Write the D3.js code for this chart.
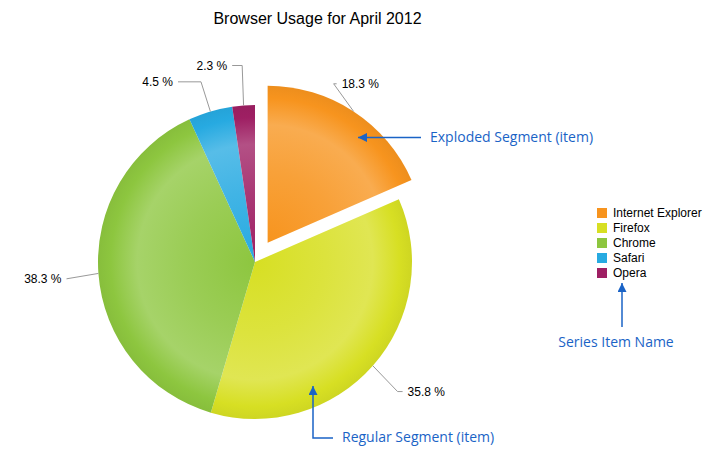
<!DOCTYPE html>
<html><head><meta charset="utf-8">
<script src="https://cdn.jsdelivr.net/npm/d3@7"></script>
<style>body{margin:0;background:#fff}svg{display:block}</style>
</head><body>
<svg id="c" width="717" height="460"></svg>
<script>
// ---- data ----
const browsers = ["Internet Explorer", "Firefox", "Chrome", "Safari", "Opera"];
const usage = [18.3, 35.8, 38.3, 4.5, 2.3];
const explodedFlags = [true, false, false, false, false];
const colors = ["#f7941e", "#d7df23", "#8dc63f", "#27aae1", "#9e1f63"];
const titleText = "Browser Usage for April 2012";
const annotations = ["Exploded Segment (item)", "Regular Segment (item)", "Series Item Name"];

// ---- layout (not data) ----
const W = 717, H = 460, cx = 255, cy = 262, R = 157, explode = 23;
const labelR = 190;
const labelTweak = [[-38, 0], [0, 4], [1, 3], [0, 2], [1, -7]];
const labelLeg = [3, 5, 0, -23, -10];

const svg = d3.select("#c");
const defs = svg.append("defs");

svg.append("text").attr("x", 317.5).attr("y", 24).attr("text-anchor", "middle")
  .attr("font-family", "Liberation Sans, Arial, sans-serif").attr("font-size", 16)
  .attr("fill", "#000").text(titleText);

const table = browsers.map((b, i) => ({name: b, value: usage[i], exploded: explodedFlags[i], color: colors[i], i}));
const pie = d3.pie().value(d => d.value).sort(null);
const arcs = pie(table);
const arc = d3.arc().innerRadius(0).outerRadius(R);

arcs.forEach((a, i) => {
  const c = d3.color(a.data.color);
  const light = d3.interpolateRgb(a.data.color, "#ffffff");
  const dark = d3.interpolateRgb(a.data.color, "#000000");
  const g = defs.append("radialGradient").attr("id", "g" + i)
    .attr("gradientUnits", "userSpaceOnUse").attr("cx", 0).attr("cy", 0).attr("r", R);
  g.append("stop").attr("offset", "0%").attr("stop-color", a.data.color);
  g.append("stop").attr("offset", "45%").attr("stop-color", light(0.12));
  g.append("stop").attr("offset", "75%").attr("stop-color", light(0.22));
  g.append("stop").attr("offset", "92%").attr("stop-color", a.data.color);
  g.append("stop").attr("offset", "100%").attr("stop-color", dark(0.04));
});

const mid = a => (a.startAngle + a.endAngle) / 2;
const slices = svg.append("g").attr("transform", `translate(${cx},${cy})`);
arcs.forEach((a, i) => {
  const m = mid(a);
  const off = a.data.exploded ? explode : 0;
  const ox = off * Math.sin(m), oy = -off * Math.cos(m);
  const grp = slices.append("g").attr("transform", `translate(${ox},${oy})`);
  grp.append("path").attr("d", arc(a)).attr("fill", `url(#g${i})`);

  // label
  const sx = ox + R * Math.sin(m), sy = oy - R * Math.cos(m);
  const ex = ox + labelR * Math.sin(m) + labelTweak[i][0], ey = oy - labelR * Math.cos(m) + labelTweak[i][1];
  const lx = ex + labelLeg[i];
  const right = Math.sin(m) > 0;
  slices.append("path").attr("d", `M${sx},${sy}L${ex},${ey}L${lx},${ey}`)
    .attr("fill", "none").attr("stroke", "#999").attr("stroke-width", 1);
  slices.append("text").attr("x", lx + (right ? 5 : -5)).attr("y", ey).attr("dy", "0.35em")
    .attr("text-anchor", right ? "start" : "end")
    .attr("font-family", "Liberation Sans, Arial, sans-serif").attr("font-size", 12).attr("fill", "#000")
    .text(d3.format(".1f")(a.data.value) + " %");
});

// legend
const leg = svg.append("g").attr("transform", "translate(597,206)");
const ly = d3.scaleBand().domain(browsers).range([0, 75]);
browsers.forEach((b, i) => {
  leg.append("rect").attr("x", 0).attr("y", ly(b) + 2).attr("width", 10).attr("height", 10).attr("fill", colors[i]);
  leg.append("text").attr("x", 16).attr("y", ly(b) + 7).attr("dy", "0.35em")
    .attr("font-family", "Liberation Sans, Arial, sans-serif").attr("font-size", 12).attr("fill", "#000").text(b);
});

// annotations
const blue = "#1a63c6";
defs.append("marker").attr("id", "ah").attr("viewBox", "0 0 10 10").attr("refX", 10).attr("refY", 5)
  .attr("markerWidth", 10).attr("markerHeight", 9).attr("markerUnits", "userSpaceOnUse").attr("orient", "auto")
  .append("path").attr("d", "M0,0L10,5L0,10Z").attr("fill", blue);
const annFont = "Open Sans, Noto Sans, sans-serif";
function ann(points, text, tx, ty, anchor) {
  svg.append("path").attr("d", d3.line()(points)).attr("fill", "none").attr("stroke", blue)
    .attr("stroke-width", 1.5).attr("marker-end", "url(#ah)");
  svg.append("text").attr("x", tx).attr("y", ty).attr("dy", "0.35em").attr("text-anchor", anchor)
    .attr("font-family", annFont).attr("font-size", 14).attr("fill", blue).text(text);
}
ann([[421, 137.5], [358, 137.5]], annotations[0], 430, 137, "start");
ann([[333, 438], [313, 438], [313, 386]], annotations[1], 342, 437, "start");
ann([[622, 327], [622, 283]], annotations[2], 616, 342, "middle");
</script>
</body></html>
